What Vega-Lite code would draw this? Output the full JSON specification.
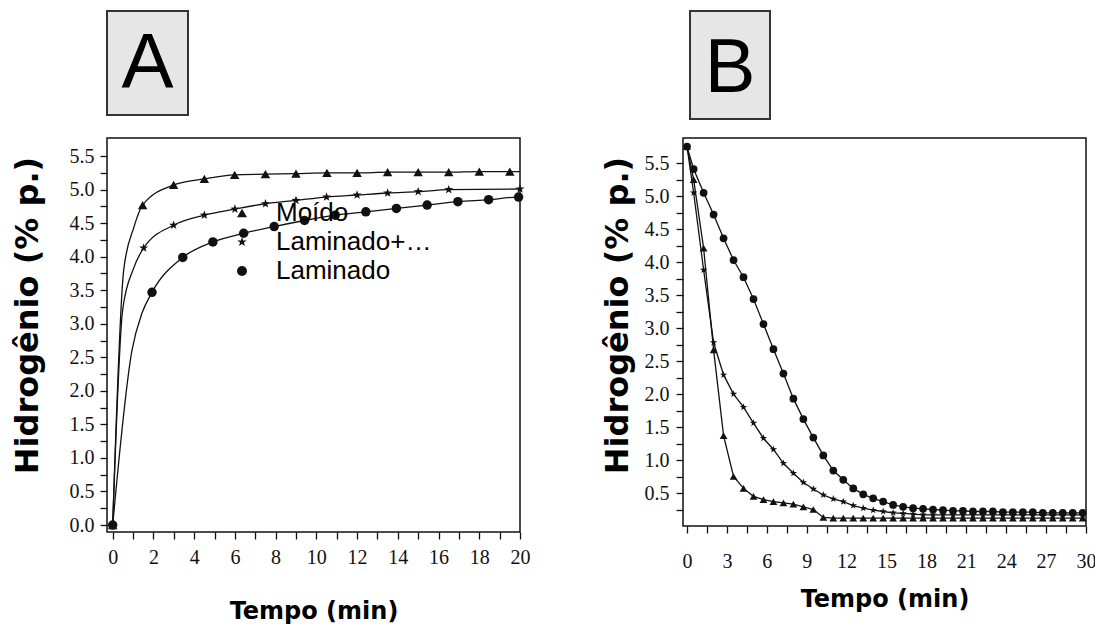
{
"$schema": "https://vega.github.io/schema/vega-lite/v6.json",
"padding": 10,
"spacing": 17,
"config": {
 "view": {"stroke": "#111", "strokeWidth": 1.5},
 "axis": {"grid": false, "domain": false, "labelColor": "#111", "tickColor": "#111", "tickWidth": 1.3, "titleColor": "#000", "labelFont": "Liberation Serif", "labelFontSize": 20, "titleFont": "DejaVu Sans", "titleFontWeight": "bold", "labelFlush": false, "labelOverlap": false}
},
"datasets": {
 "aline": [
  {"s": "Moído", "t": 0, "h": 0}, {"s": "Moído", "t": 0.54, "h": 3.8}, {"s": "Moído", "t": 1.03, "h": 4.43}, {"s": "Moído", "t": 1.47, "h": 4.77}, {"s": "Moído", "t": 2.99, "h": 5.07}, {"s": "Moído", "t": 4.5, "h": 5.16}, {"s": "Moído", "t": 5.99, "h": 5.22}, {"s": "Moído", "t": 7.5, "h": 5.23}, {"s": "Moído", "t": 9.0, "h": 5.24}, {"s": "Moído", "t": 10.52, "h": 5.25}, {"s": "Moído", "t": 12.0, "h": 5.25}, {"s": "Moído", "t": 13.5, "h": 5.26}, {"s": "Moído", "t": 15.0, "h": 5.26}, {"s": "Moído", "t": 16.5, "h": 5.26}, {"s": "Moído", "t": 18.0, "h": 5.27}, {"s": "Moído", "t": 19.5, "h": 5.27}, {"s": "Moído", "t": 20, "h": 5.27},
  {"s": "Laminado+Moído", "t": 0, "h": 0}, {"s": "Laminado+Moído", "t": 0.49, "h": 3.21}, {"s": "Laminado+Moído", "t": 1.03, "h": 3.83}, {"s": "Laminado+Moído", "t": 1.52, "h": 4.13}, {"s": "Laminado+Moído", "t": 2.99, "h": 4.47}, {"s": "Laminado+Moído", "t": 4.5, "h": 4.62}, {"s": "Laminado+Moído", "t": 6.0, "h": 4.71}, {"s": "Laminado+Moído", "t": 7.5, "h": 4.79}, {"s": "Laminado+Moído", "t": 9.0, "h": 4.84}, {"s": "Laminado+Moído", "t": 10.5, "h": 4.89}, {"s": "Laminado+Moído", "t": 12.0, "h": 4.92}, {"s": "Laminado+Moído", "t": 13.5, "h": 4.95}, {"s": "Laminado+Moído", "t": 15.0, "h": 4.97}, {"s": "Laminado+Moído", "t": 16.5, "h": 5.0}, {"s": "Laminado+Moído", "t": 20, "h": 5.01},
  {"s": "Laminado", "t": 0, "h": 0}, {"s": "Laminado", "t": 0.95, "h": 2.61}, {"s": "Laminado", "t": 1.44, "h": 3.16}, {"s": "Laminado", "t": 1.93, "h": 3.47}, {"s": "Laminado", "t": 3.44, "h": 3.99}, {"s": "Laminado", "t": 4.92, "h": 4.22}, {"s": "Laminado", "t": 6.43, "h": 4.35}, {"s": "Laminado", "t": 7.93, "h": 4.45}, {"s": "Laminado", "t": 9.42, "h": 4.54}, {"s": "Laminado", "t": 10.93, "h": 4.62}, {"s": "Laminado", "t": 12.43, "h": 4.67}, {"s": "Laminado", "t": 13.93, "h": 4.72}, {"s": "Laminado", "t": 15.44, "h": 4.77}, {"s": "Laminado", "t": 16.95, "h": 4.82}, {"s": "Laminado", "t": 18.46, "h": 4.85}, {"s": "Laminado", "t": 19.93, "h": 4.89}, {"s": "Laminado", "t": 20, "h": 4.89}
 ],
 "apts": [
  {"s": "Moído", "t": 0, "h": 0}, {"s": "Moído", "t": 1.47, "h": 4.77}, {"s": "Moído", "t": 2.99, "h": 5.07}, {"s": "Moído", "t": 4.5, "h": 5.16}, {"s": "Moído", "t": 5.99, "h": 5.22}, {"s": "Moído", "t": 7.5, "h": 5.23}, {"s": "Moído", "t": 9.0, "h": 5.24}, {"s": "Moído", "t": 10.52, "h": 5.25}, {"s": "Moído", "t": 12.0, "h": 5.25}, {"s": "Moído", "t": 13.5, "h": 5.26}, {"s": "Moído", "t": 15.0, "h": 5.26}, {"s": "Moído", "t": 16.5, "h": 5.26}, {"s": "Moído", "t": 18.0, "h": 5.27}, {"s": "Moído", "t": 19.5, "h": 5.27},
  {"s": "Laminado+Moído", "t": 0, "h": 0}, {"s": "Laminado+Moído", "t": 1.52, "h": 4.13}, {"s": "Laminado+Moído", "t": 2.99, "h": 4.47}, {"s": "Laminado+Moído", "t": 4.5, "h": 4.62}, {"s": "Laminado+Moído", "t": 6.0, "h": 4.71}, {"s": "Laminado+Moído", "t": 7.5, "h": 4.79}, {"s": "Laminado+Moído", "t": 9.0, "h": 4.84}, {"s": "Laminado+Moído", "t": 10.5, "h": 4.89}, {"s": "Laminado+Moído", "t": 12.0, "h": 4.92}, {"s": "Laminado+Moído", "t": 13.5, "h": 4.95}, {"s": "Laminado+Moído", "t": 15.0, "h": 4.97}, {"s": "Laminado+Moído", "t": 16.5, "h": 5.0}, {"s": "Laminado+Moído", "t": 20, "h": 5.01},
  {"s": "Laminado", "t": 0, "h": 0}, {"s": "Laminado", "t": 1.93, "h": 3.47}, {"s": "Laminado", "t": 3.44, "h": 3.99}, {"s": "Laminado", "t": 4.92, "h": 4.22}, {"s": "Laminado", "t": 6.43, "h": 4.35}, {"s": "Laminado", "t": 7.93, "h": 4.45}, {"s": "Laminado", "t": 9.42, "h": 4.54}, {"s": "Laminado", "t": 10.93, "h": 4.62}, {"s": "Laminado", "t": 12.43, "h": 4.67}, {"s": "Laminado", "t": 13.93, "h": 4.72}, {"s": "Laminado", "t": 15.44, "h": 4.77}, {"s": "Laminado", "t": 16.95, "h": 4.82}, {"s": "Laminado", "t": 18.46, "h": 4.85}, {"s": "Laminado", "t": 19.93, "h": 4.89}
 ],
 "bdata": [
  {"s": "Moído", "t": 0, "h": 5.75}, {"s": "Moído", "t": 0.5, "h": 5.25}, {"s": "Moído", "t": 1.25, "h": 4.21}, {"s": "Moído", "t": 2.0, "h": 2.67}, {"s": "Moído", "t": 2.75, "h": 1.37}, {"s": "Moído", "t": 3.5, "h": 0.75}, {"s": "Moído", "t": 4.25, "h": 0.57}, {"s": "Moído", "t": 5.0, "h": 0.45}, {"s": "Moído", "t": 5.75, "h": 0.4}, {"s": "Moído", "t": 6.5, "h": 0.37}, {"s": "Moído", "t": 7.25, "h": 0.35}, {"s": "Moído", "t": 8.0, "h": 0.33}, {"s": "Moído", "t": 8.75, "h": 0.29}, {"s": "Moído", "t": 9.5, "h": 0.25}, {"s": "Moído", "t": 10.25, "h": 0.13}, {"s": "Moído", "t": 11.0, "h": 0.12}, {"s": "Moído", "t": 11.75, "h": 0.12}, {"s": "Moído", "t": 12.5, "h": 0.12}, {"s": "Moído", "t": 13.25, "h": 0.12}, {"s": "Moído", "t": 14.0, "h": 0.12}, {"s": "Moído", "t": 14.75, "h": 0.12}, {"s": "Moído", "t": 15.5, "h": 0.12}, {"s": "Moído", "t": 16.25, "h": 0.12}, {"s": "Moído", "t": 17.0, "h": 0.12}, {"s": "Moído", "t": 17.75, "h": 0.12}, {"s": "Moído", "t": 18.5, "h": 0.12}, {"s": "Moído", "t": 19.25, "h": 0.12}, {"s": "Moído", "t": 20.0, "h": 0.12}, {"s": "Moído", "t": 20.75, "h": 0.12}, {"s": "Moído", "t": 21.5, "h": 0.12}, {"s": "Moído", "t": 22.25, "h": 0.12}, {"s": "Moído", "t": 23.0, "h": 0.12}, {"s": "Moído", "t": 23.75, "h": 0.12}, {"s": "Moído", "t": 24.5, "h": 0.12}, {"s": "Moído", "t": 25.25, "h": 0.12}, {"s": "Moído", "t": 26.0, "h": 0.12}, {"s": "Moído", "t": 26.75, "h": 0.12}, {"s": "Moído", "t": 27.5, "h": 0.12}, {"s": "Moído", "t": 28.25, "h": 0.12}, {"s": "Moído", "t": 29.0, "h": 0.12}, {"s": "Moído", "t": 29.75, "h": 0.12},
  {"s": "Laminado+Moído", "t": 0, "h": 5.75}, {"s": "Laminado+Moído", "t": 0.5, "h": 5.05}, {"s": "Laminado+Moído", "t": 1.25, "h": 3.88}, {"s": "Laminado+Moído", "t": 2.0, "h": 2.78}, {"s": "Laminado+Moído", "t": 2.75, "h": 2.29}, {"s": "Laminado+Moído", "t": 3.5, "h": 2.0}, {"s": "Laminado+Moído", "t": 4.25, "h": 1.8}, {"s": "Laminado+Moído", "t": 5.0, "h": 1.56}, {"s": "Laminado+Moído", "t": 5.75, "h": 1.33}, {"s": "Laminado+Moído", "t": 6.5, "h": 1.16}, {"s": "Laminado+Moído", "t": 7.25, "h": 0.95}, {"s": "Laminado+Moído", "t": 8.0, "h": 0.8}, {"s": "Laminado+Moído", "t": 8.75, "h": 0.66}, {"s": "Laminado+Moído", "t": 9.5, "h": 0.56}, {"s": "Laminado+Moído", "t": 10.25, "h": 0.47}, {"s": "Laminado+Moído", "t": 11.0, "h": 0.41}, {"s": "Laminado+Moído", "t": 11.75, "h": 0.37}, {"s": "Laminado+Moído", "t": 12.5, "h": 0.31}, {"s": "Laminado+Moído", "t": 13.25, "h": 0.27}, {"s": "Laminado+Moído", "t": 14.0, "h": 0.24}, {"s": "Laminado+Moído", "t": 14.75, "h": 0.22}, {"s": "Laminado+Moído", "t": 15.5, "h": 0.2}, {"s": "Laminado+Moído", "t": 16.25, "h": 0.19}, {"s": "Laminado+Moído", "t": 17.0, "h": 0.18}, {"s": "Laminado+Moído", "t": 17.75, "h": 0.17}, {"s": "Laminado+Moído", "t": 18.5, "h": 0.17}, {"s": "Laminado+Moído", "t": 19.25, "h": 0.17}, {"s": "Laminado+Moído", "t": 20.0, "h": 0.17}, {"s": "Laminado+Moído", "t": 20.75, "h": 0.17}, {"s": "Laminado+Moído", "t": 21.5, "h": 0.17}, {"s": "Laminado+Moído", "t": 22.25, "h": 0.17}, {"s": "Laminado+Moído", "t": 23.0, "h": 0.17}, {"s": "Laminado+Moído", "t": 23.75, "h": 0.17}, {"s": "Laminado+Moído", "t": 24.5, "h": 0.17}, {"s": "Laminado+Moído", "t": 25.25, "h": 0.17}, {"s": "Laminado+Moído", "t": 26.0, "h": 0.17}, {"s": "Laminado+Moído", "t": 26.75, "h": 0.17}, {"s": "Laminado+Moído", "t": 27.5, "h": 0.17}, {"s": "Laminado+Moído", "t": 28.25, "h": 0.17}, {"s": "Laminado+Moído", "t": 29.0, "h": 0.17}, {"s": "Laminado+Moído", "t": 29.75, "h": 0.17},
  {"s": "Laminado", "t": 0, "h": 5.75}, {"s": "Laminado", "t": 0.5, "h": 5.41}, {"s": "Laminado", "t": 1.25, "h": 5.05}, {"s": "Laminado", "t": 2.0, "h": 4.72}, {"s": "Laminado", "t": 2.75, "h": 4.36}, {"s": "Laminado", "t": 3.5, "h": 4.03}, {"s": "Laminado", "t": 4.25, "h": 3.77}, {"s": "Laminado", "t": 5.0, "h": 3.44}, {"s": "Laminado", "t": 5.75, "h": 3.06}, {"s": "Laminado", "t": 6.5, "h": 2.68}, {"s": "Laminado", "t": 7.25, "h": 2.31}, {"s": "Laminado", "t": 8.0, "h": 1.93}, {"s": "Laminado", "t": 8.75, "h": 1.62}, {"s": "Laminado", "t": 9.5, "h": 1.34}, {"s": "Laminado", "t": 10.25, "h": 1.07}, {"s": "Laminado", "t": 11.0, "h": 0.84}, {"s": "Laminado", "t": 11.75, "h": 0.7}, {"s": "Laminado", "t": 12.5, "h": 0.57}, {"s": "Laminado", "t": 13.25, "h": 0.48}, {"s": "Laminado", "t": 14.0, "h": 0.42}, {"s": "Laminado", "t": 14.75, "h": 0.37}, {"s": "Laminado", "t": 15.5, "h": 0.32}, {"s": "Laminado", "t": 16.25, "h": 0.29}, {"s": "Laminado", "t": 17.0, "h": 0.27}, {"s": "Laminado", "t": 17.75, "h": 0.26}, {"s": "Laminado", "t": 18.5, "h": 0.25}, {"s": "Laminado", "t": 19.25, "h": 0.24}, {"s": "Laminado", "t": 20.0, "h": 0.23}, {"s": "Laminado", "t": 20.75, "h": 0.23}, {"s": "Laminado", "t": 21.5, "h": 0.22}, {"s": "Laminado", "t": 22.25, "h": 0.22}, {"s": "Laminado", "t": 23.0, "h": 0.22}, {"s": "Laminado", "t": 23.75, "h": 0.21}, {"s": "Laminado", "t": 24.5, "h": 0.21}, {"s": "Laminado", "t": 25.25, "h": 0.21}, {"s": "Laminado", "t": 26.0, "h": 0.21}, {"s": "Laminado", "t": 26.75, "h": 0.2}, {"s": "Laminado", "t": 27.5, "h": 0.2}, {"s": "Laminado", "t": 28.25, "h": 0.2}, {"s": "Laminado", "t": 29.0, "h": 0.2}, {"s": "Laminado", "t": 29.75, "h": 0.2}
 ]
},
"vconcat": [
 {"hconcat": [
   {"width": 81, "height": 104, "view": {"fill": "#e6e6e6", "stroke": "#333", "strokeWidth": 2}, "data": {"values": [{"label": "A"}]}, "mark": {"type": "text", "font": "Liberation Sans", "fontSize": 78, "color": "#000", "align": "center", "baseline": "middle", "dy": 2}, "encoding": {"text": {"field": "label", "type": "nominal"}}},
   {"width": 80, "height": 108, "view": {"fill": "#e6e6e6", "stroke": "#333", "strokeWidth": 2}, "data": {"values": [{"label": "B"}]}, "mark": {"type": "text", "font": "Liberation Sans", "fontSize": 76, "color": "#000", "align": "center", "baseline": "middle", "dy": 4}, "encoding": {"text": {"field": "label", "type": "nominal"}}}
  ], "spacing": 500},
 {"hconcat": [
   {"width": 413, "height": 394,
    "encoding": {
     "x": {"field": "t", "type": "quantitative", "scale": {"domain": [-0.28, 20], "nice": false, "zero": false},
       "axis": {"title": "Tempo (min)", "titleFontSize": 24, "titlePadding": 32, "values": [0,1,2,3,4,5,6,7,8,9,10,11,12,13,14,15,16,17,18,19,20], "format": "d", "labelExpr": "datum.value % 2 === 0 ? datum.label : ''", "tickSize": 7, "labelPadding": 8}},
     "y": {"field": "h", "type": "quantitative", "scale": {"domain": [-0.104, 5.77], "nice": false, "zero": false},
       "axis": {"title": "Hidrogênio (% p.)", "titleFontSize": 32, "titlePadding": 25, "titleY": 177, "values": [0,0.25,0.5,0.75,1,1.25,1.5,1.75,2,2.25,2.5,2.75,3,3.25,3.5,3.75,4,4.25,4.5,4.75,5,5.25,5.5], "format": ".1f", "labelExpr": "datum.value % 0.5 === 0 ? datum.label : ''", "tickSize": 7, "labelPadding": 6}}
    },
    "layer": [
     {"data": {"name": "aline"}, "mark": {"type": "line", "interpolate": "monotone", "color": "#111", "strokeWidth": 1.3}, "encoding": {"detail": {"field": "s", "type": "nominal"}}},
     {"data": {"name": "apts"}, "mark": {"type": "point", "filled": true, "color": "#111", "opacity": 1, "size": 90},
      "encoding": {"shape": {"field": "s", "type": "nominal", "scale": {"domain": ["Moído", "Laminado+Moído", "Laminado"], "range": ["triangle-up", "M0,-1L0.235,-0.324L0.951,-0.309L0.38,0.124L0.588,0.809L0,0.4L-0.588,0.809L-0.38,0.124L-0.951,-0.309L-0.235,-0.324Z", "circle"]},
        "legend": {"orient": "none", "legendX": 122, "legendY": 189, "title": null, "padding": 0, "labelFont": "Liberation Sans", "labelFontSize": 26, "labelColor": "#000", "symbolSize": 100, "labelOffset": 21, "rowPadding": 3,
          "encode": {"symbols": {"update": {"shape": {"signal": "datum.value === 'Moído' ? 'M-4,0L4,0M0,-0.8L0.85,0.65L-0.85,0.65Z' : (datum.value === 'Laminado' ? 'M-4,0L4,0M0.7,0A0.7,0.7,0,1,1,-0.7,0A0.7,0.7,0,1,1,0.7,0Z' : 'M-4,0L4,0M0,-0.9L0.21,-0.29L0.86,-0.28L0.34,0.11L0.53,0.73L0,0.36L-0.53,0.73L-0.34,0.11L-0.86,-0.28L-0.21,-0.29Z')"}, "fill": {"value": "#111"}, "stroke": {"value": "#111"}, "strokeWidth": {"value": 1.4}, "opacity": {"value": 1}}}}}}}}
    ]},
   {"width": 403, "height": 388,
    "data": {"name": "bdata"},
    "encoding": {
     "x": {"field": "t", "type": "quantitative", "scale": {"domain": [-0.3, 30], "nice": false, "zero": false},
       "axis": {"title": "Tempo (min)", "titleFontSize": 24, "titlePadding": 16, "values": [0,1.5,3,4.5,6,7.5,9,10.5,12,13.5,15,16.5,18,19.5,21,22.5,24,25.5,27,28.5,30], "format": "d", "labelExpr": "datum.value % 3 === 0 ? datum.label : ''", "tickSize": 7, "labelPadding": 18}},
     "y": {"field": "h", "type": "quantitative", "scale": {"domain": [0, 5.88], "nice": false, "zero": false},
       "axis": {"title": "Hidrogênio (% p.)", "titleFontSize": 32, "titlePadding": 10, "titleY": 177, "values": [0.25,0.5,0.75,1,1.25,1.5,1.75,2,2.25,2.5,2.75,3,3.25,3.5,3.75,4,4.25,4.5,4.75,5,5.25,5.5], "format": ".1f", "labelExpr": "datum.value % 0.5 === 0 ? datum.label : ''", "tickSize": 7, "labelPadding": 7}}
    },
    "layer": [
     {"mark": {"type": "line", "color": "#111", "strokeWidth": 1.3}, "encoding": {"detail": {"field": "s", "type": "nominal"}}},
     {"mark": {"type": "point", "filled": true, "color": "#111", "opacity": 1, "size": 60},
      "encoding": {"shape": {"field": "s", "type": "nominal", "scale": {"domain": ["Moído", "Laminado+Moído", "Laminado"], "range": ["triangle-up", "M0,-1L0.235,-0.324L0.951,-0.309L0.38,0.124L0.588,0.809L0,0.4L-0.588,0.809L-0.38,0.124L-0.951,-0.309L-0.235,-0.324Z", "circle"]},
        "legend": {"orient": "none", "legendX": 134, "legendY": 54, "title": null, "padding": 0, "labelFont": "Liberation Sans", "labelFontSize": 26, "labelColor": "#000", "symbolSize": 100, "labelOffset": 21, "rowPadding": 2,
          "encode": {"symbols": {"update": {"shape": {"signal": "datum.value === 'Moído' ? 'M-4,0L4,0M0,-0.8L0.85,0.65L-0.85,0.65Z' : (datum.value === 'Laminado' ? 'M-4,0L4,0M0.7,0A0.7,0.7,0,1,1,-0.7,0A0.7,0.7,0,1,1,0.7,0Z' : 'M-4,0L4,0M0,-0.9L0.21,-0.29L0.86,-0.28L0.34,0.11L0.53,0.73L0,0.36L-0.53,0.73L-0.34,0.11L-0.86,-0.28L-0.21,-0.29Z')"}, "fill": {"value": "#111"}, "stroke": {"value": "#111"}, "strokeWidth": {"value": 1.4}, "opacity": {"value": 1}}}}}}}}
    ]}
  ], "spacing": 69}
]
}
